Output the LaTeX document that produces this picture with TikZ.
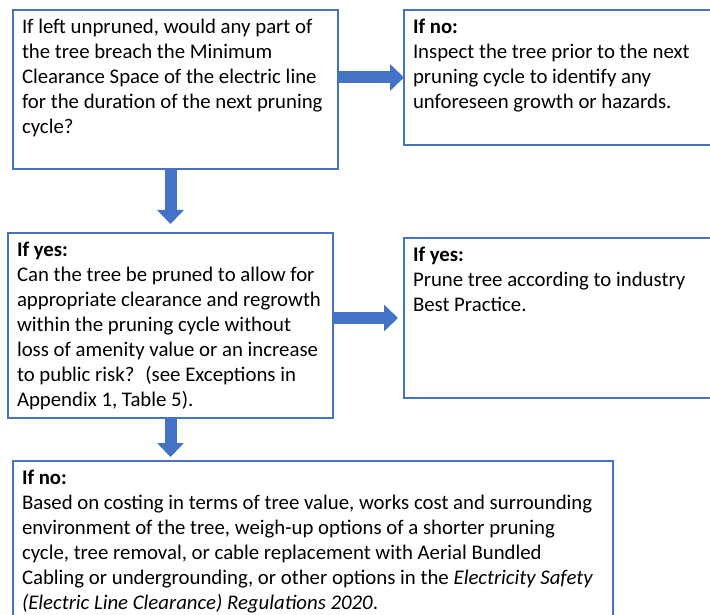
\documentclass[tikz,border=0pt]{standalone}
\usepackage{fontspec}
\setmainfont{Carlito}
\usetikzlibrary{arrows.meta}
\definecolor{flowblue}{HTML}{4472C4}

\begin{document}
\begin{tikzpicture}[x=1pt,y=1pt,
  flowbox/.style={draw=flowblue, line width=1.8pt, fill=white, inner xsep=9pt,
    inner ysep=9pt, outer sep=0pt, anchor=north west,
    font=\fontsize{20.8}{25}\selectfont},
  flowarrow/.style={draw=flowblue, line width=12pt,
    -{Triangle[width=26pt,length=14pt]}}]
\fill[white] (0,0) rectangle (710,-615);
\useasboundingbox (0,0) rectangle (710,-615);

% question boxes on the left
\node[flowbox] (breach) at (13,-10) {\parbox[t][141pt][t]{307pt}{\raggedright
  If left unpruned, would any part of\\
  the tree breach the Minimum\\
  Clearance Space of the electric line\\
  for the duration of the next pruning\\
  cycle?}};
\node[flowbox] (canprune) at (8,-233) {\parbox[t][167pt][t]{307pt}{\raggedright
  \textbf{If yes:}\\
  Can the tree be pruned to allow for\\
  appropriate clearance and regrowth\\
  within the pruning cycle without\\
  loss of amenity value or an increase\\
  to public risk?~ (see Exceptions in\\
  Appendix 1, Table 5).}};

% outcome boxes
\node[flowbox] (inspect) at (404,-10) {\parbox[t][117pt][t]{292pt}{\raggedright
  \textbf{If no:}\\
  Inspect the tree prior to the next\\
  pruning cycle to identify any\\
  unforeseen growth or hazards.}};
\node[flowbox] (prune) at (404,-238) {\parbox[t][142pt][t]{292pt}{\raggedright
  \textbf{If yes:}\\
  Prune tree according to industry\\
  Best Practice.}};
\node[flowbox] (options) at (13,-461) {\parbox[t][152pt][t]{582pt}{\raggedright
  \textbf{If no:}\\
  Based on costing in terms of tree value, works cost and surrounding\\
  environment of the tree, weigh-up options of a shorter pruning\\
  cycle, tree removal, or cable replacement with Aerial Bundled\\
  Cabling or undergrounding, or other options in the \textit{Electricity Safety}\\
  \textit{(Electric Line Clearance) Regulations 2020}.}};

% block arrows
\draw[flowarrow] (breach.east |- inspect.west) -- (inspect.west);
\draw[flowarrow, shorten >=9pt] (breach.south -| canprune.north) -- (canprune.north);
\draw[flowarrow, shorten >=6pt] (canprune.east |- prune.west) -- (prune.west);
\draw[flowarrow, shorten >=4pt] (canprune.south) -- (canprune.south |- options.north);
\end{tikzpicture}
\end{document}
